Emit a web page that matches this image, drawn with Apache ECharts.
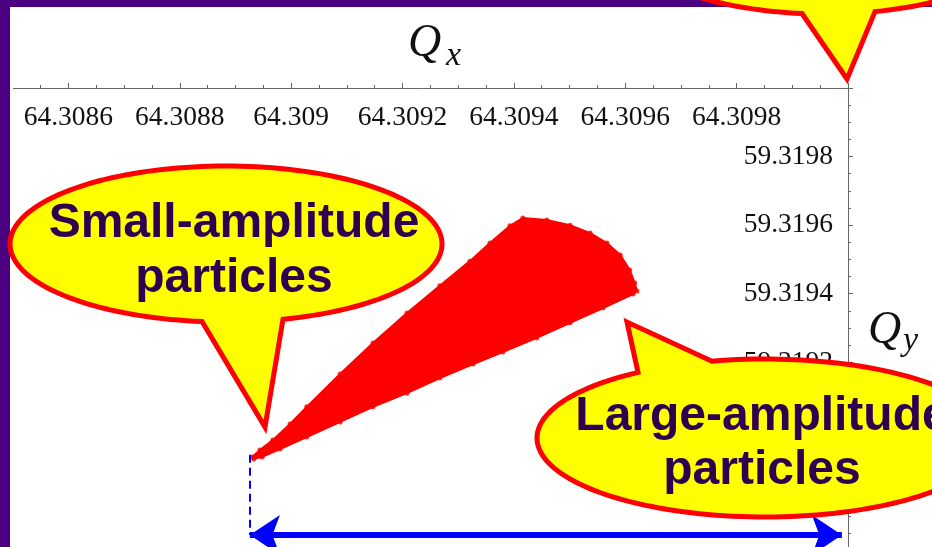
<!DOCTYPE html>
<html><head><meta charset="utf-8">
<script src="https://cdn.jsdelivr.net/npm/echarts@6/dist/echarts.min.js"></script>
<style>html,body{margin:0;padding:0;background:#fff}#c{width:932px;height:547px}</style>
</head><body><div id="c"></div>
<script>
// Tune-footprint boundary (Qx, Qy)
const footprintQx = [
  64.308930, 64.308944, 64.308967, 64.308998, 64.309028, 64.309088, 64.309147, 64.309208, 64.309267, 64.309321, 64.309357, 64.309393, 64.309416,
  64.309459, 64.309501, 64.309537, 64.309567, 64.309591, 64.309608, 64.309617, 64.309621,
  64.309614, 64.309560, 64.309501, 64.309441, 64.309380, 64.309327, 64.309267, 64.309208, 64.309147, 64.309088, 64.309028, 64.308980, 64.308948, 64.308933
];
const footprintQy = [
  59.318924, 59.318944, 59.318973, 59.319020, 59.319070, 59.319166, 59.319256, 59.319344, 59.319423, 59.319495, 59.319548, 59.319598, 59.319621,
  59.319615, 59.319600, 59.319577, 59.319548, 59.319513, 59.319469, 59.319431, 59.319408,
  59.319399, 59.319358, 59.319315, 59.319271, 59.319230, 59.319195, 59.319154, 59.319110, 59.319070, 59.319026, 59.318982, 59.318947, 59.318924, 59.318918
];
// Tune spread arrow and guide line
const spreadQx = [64.308926, 64.309989];
const spreadQy = 59.318696;
const guideQx = 64.308926;
const guideQy = [59.318930, 59.318696];
// Axes
const qxRange = [64.3084, 64.3100];
const qyRange = [59.3186, 59.3200];
const tickStep = 0.0002;
const calloutTexts = ['Small-amplitude\nparticles', 'Large-amplitude\nparticles'];

function norm(a) { while (a < 0) a += 2 * Math.PI; while (a >= 2 * Math.PI) a -= 2 * Math.PI; return a; }
function calloutShape(cx, cy, rx, ry, a, tip, b) {
  const ang = p => Math.atan2((p[1] - cy) / ry, (p[0] - cx) / rx);
  const tA = ang(a), tB = ang(b), tm = ang(tip);
  let delta = norm(tA - tB), dir = 1;
  if (norm(tm - tB) < delta) { dir = -1; delta = 2 * Math.PI - delta; }
  const pts = [a, tip, b];
  const n = 160;
  for (let i = 1; i < n; i++) {
    const t = tB + dir * delta * i / n;
    pts.push([cx + rx * Math.cos(t), cy + ry * Math.sin(t)]);
  }
  return pts;
}

const chart = echarts.init(document.getElementById('c'), null, {renderer: 'canvas'});
const axisColor = '#666';
const labelFont = {fontFamily: 'Liberation Serif, Times New Roman, serif', fontSize: 27.5, color: '#111'};
const purple = '#4b0082';
const txtColor = '#2e0050';
const calloutStyle = {fill: '#ffff00', stroke: '#ff0000', lineWidth: 5, lineJoin: 'miter', miterLimit: 10};

chart.setOption({
  animation: false,
  backgroundColor: '#fff',
  grid: {left: -43, right: 84, top: 88, bottom: -21, containLabel: false, outerBoundsMode: 'none'},
  xAxis: {
    type: 'value', position: 'top', min: qxRange[0], max: qxRange[1], interval: tickStep,
    axisLine: {show: true, lineStyle: {color: axisColor, width: 1}},
    axisTick: {show: true, length: 5, lineStyle: {color: axisColor}},
    minorTick: {show: true, splitNumber: 4, length: 3, lineStyle: {color: axisColor}},
    axisLabel: Object.assign({inside: true, margin: 16, showMinLabel: false, showMaxLabel: false}, labelFont),
    splitLine: {show: false}, minorSplitLine: {show: false}
  },
  yAxis: {
    type: 'value', position: 'right', min: qyRange[0], max: qyRange[1], interval: tickStep,
    axisLine: {show: true, lineStyle: {color: axisColor, width: 1}},
    axisTick: {show: true, length: 5, lineStyle: {color: axisColor}},
    minorTick: {show: true, splitNumber: 4, length: 3, lineStyle: {color: axisColor}},
    axisLabel: Object.assign({inside: true, margin: 15, showMinLabel: false, showMaxLabel: false}, labelFont),
    splitLine: {show: false}, minorSplitLine: {show: false}
  },
  series: [
    {
      type: 'custom', silent: true, clip: true,
      data: footprintQx.map((x, i) => [x, footprintQy[i]]),
      renderItem: function (params, api) {
        if (params.dataIndex !== 0) return null;
        const pts = footprintQx.map((x, i) => api.coord([x, footprintQy[i]]));
        return {type: 'polygon', shape: {points: pts}, style: {fill: '#ff0000', stroke: '#ff0000', lineWidth: 2}};
      },
      z: 3
    },
    {
      type: 'scatter', silent: true, symbolSize: 5,
      itemStyle: {color: '#ff0000'},
      data: footprintQx.map((x, i) => [x, footprintQy[i]]),
      z: 3,
      markLine: {
        silent: true, animation: false,
        label: {show: false},
        emphasis: {disabled: true},
        data: [
          [
            {coord: [spreadQx[0], spreadQy], symbol: 'arrow', symbolSize: [30, 30]},
            {coord: [spreadQx[1], spreadQy], symbol: 'arrow', symbolSize: [30, 30],
             lineStyle: {color: '#0000ff', width: 6, type: 'solid'}}
          ],
          [
            {coord: [guideQx, guideQy[0]], symbol: 'none'},
            {coord: [guideQx, guideQy[1]], symbol: 'none',
             lineStyle: {color: '#0000ff', width: 2, type: [8, 5]}}
          ]
        ],
        lineStyle: {color: '#0000ff', width: 6, type: 'solid'},
        itemStyle: {color: '#0000ff'}
      }
    }
  ],
  graphic: [
    {type: 'rect', z: 90, silent: true, shape: {x: 10, y: 80, width: 3, height: 12}, style: {fill: '#fff'}},
    {type: 'rect', z: 90, silent: true, shape: {x: 0, y: 0, width: 10, height: 547}, style: {fill: purple}},
    {type: 'rect', z: 90, silent: true, shape: {x: 0, y: 0, width: 932, height: 7}, style: {fill: purple}},
    // top-right callout
    {type: 'polygon', z: 100, silent: true,
     shape: {points: calloutShape(825, -60, 198, 74, [875, 11.6], [847, 79], [802, 13.5])}, style: calloutStyle},
    // small-amplitude callout
    {type: 'polygon', z: 100, silent: true,
     shape: {points: calloutShape(226, 244, 216, 78, [202, 321.5], [265, 427], [283, 319.2])}, style: calloutStyle},
    {type: 'text', z: 101, silent: true, x: 234, y: 251,
     style: {text: calloutTexts[0], fontFamily: 'Liberation Sans, Arial, sans-serif', fontWeight: 'bold', fontSize: 48,
             lineHeight: 55, fill: txtColor, align: 'center', verticalAlign: 'middle'}},
    // large-amplitude callout
    {type: 'polygon', z: 100, silent: true,
     shape: {points: calloutShape(765, 438, 228, 79, [638, 372.4], [627, 322], [712, 361.2])}, style: calloutStyle},
    {type: 'text', z: 101, silent: true, x: 762, y: 444,
     style: {text: calloutTexts[1], fontFamily: 'Liberation Sans, Arial, sans-serif', fontWeight: 'bold', fontSize: 48,
             lineHeight: 54, fill: txtColor, align: 'center', verticalAlign: 'middle'}},
    // axis names
    {type: 'text', z: 101, silent: true, x: 408, y: 44,
     style: {text: 'Q', fontFamily: 'Liberation Serif, Times New Roman, serif', fontStyle: 'italic', fontSize: 46, fill: '#111', align: 'left', verticalAlign: 'middle'}},
    {type: 'text', z: 101, silent: true, x: 446, y: 56,
     style: {text: 'x', fontFamily: 'Liberation Serif, Times New Roman, serif', fontStyle: 'italic', fontSize: 34, fill: '#111', align: 'left', verticalAlign: 'middle'}},
    {type: 'text', z: 101, silent: true, x: 868, y: 331,
     style: {text: 'Q', fontFamily: 'Liberation Serif, Times New Roman, serif', fontStyle: 'italic', fontSize: 46, fill: '#111', align: 'left', verticalAlign: 'middle'}},
    {type: 'text', z: 101, silent: true, x: 903, y: 341,
     style: {text: 'y', fontFamily: 'Liberation Serif, Times New Roman, serif', fontStyle: 'italic', fontSize: 34, fill: '#111', align: 'left', verticalAlign: 'middle'}}
  ]
});
</script></body></html>
